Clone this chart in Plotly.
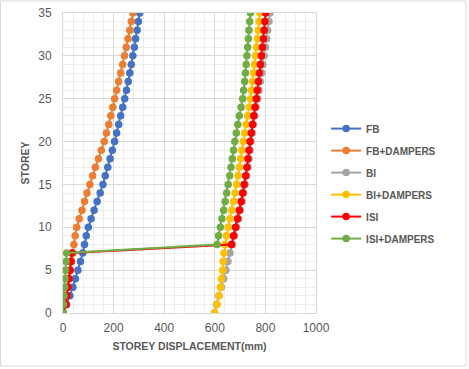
import plotly.graph_objects as go

storeys = list(range(0, 36))

fb = [0, 14, 27, 39, 49, 59, 69, 78, 85, 92, 100, 111, 123, 135, 147, 158, 167, 177, 186, 195,
      204, 212, 220, 228, 236, 244, 251, 258, 264, 270, 276, 282, 287, 293, 298, 303]
fb_dampers = [0, 6, 11, 17, 22, 28, 34, 39, 43, 48, 54, 64, 75, 85, 95, 106, 117, 128, 140, 151,
              163, 172, 181, 189, 197, 204, 212, 220, 228, 236, 243, 250, 257, 264, 270, 276]
bi = [598, 607, 616, 626, 635, 644, 652, 660, 670, 678, 686, 694, 701, 708, 714, 720, 726, 731, 735, 739,
      743, 748, 753, 758, 763, 770, 775, 780, 785, 790, 795, 800, 805, 809, 814, 818]
bi_dampers = [600, 609, 617, 622, 626, 631, 633, 636, 640, 646, 653, 660, 667, 674, 680, 686, 692, 697, 702, 706,
              712, 718, 724, 730, 736, 741, 745, 749, 753, 757, 761, 765, 769, 772, 775, 778]
isi = [0, 12, 16, 20, 24, 28, 31, 35, 666, 674, 682, 690, 697, 704, 710, 716, 722, 727, 731, 735,
       739, 744, 749, 754, 759, 764, 768, 772, 776, 780, 784, 788, 792, 795, 798, 801]
isi_dampers = [0, 2, 4, 6, 8, 10, 12, 14, 609, 615, 622, 628, 635, 641, 647, 653, 659, 664, 669, 674,
               679, 685, 691, 697, 704, 710, 714, 718, 721, 724, 727, 730, 733, 735, 738, 741]

series = [
    ("FB", fb, "#4472C4"),
    ("FB+DAMPERS", fb_dampers, "#ED7D31"),
    ("BI", bi, "#A5A5A5"),
    ("BI+DAMPERS", bi_dampers, "#FFC000"),
    ("ISI", isi, "#FF0000"),
    ("ISI+DAMPERS", isi_dampers, "#70AD47"),
]

x_ticks = [0, 200, 400, 600, 800, 1000]
y_ticks = [0, 5, 10, 15, 20, 25, 30, 35]

fig = go.Figure()
for name, vals, col in series:
    fig.add_trace(go.Scatter(
        x=vals, y=storeys, name="<b>" + name + "</b>", mode="lines+markers",
        line=dict(color=col, width=2),
        marker=dict(color=col, size=7.5, symbol="circle"),
        legendgroup=name,
    ))

txt = "#595959"
fig.update_layout(
    width=469, height=369,
    margin=dict(l=63, r=153, t=13, b=56, autoexpand=False),
    paper_bgcolor="white", plot_bgcolor="white",
    font=dict(family="Liberation Sans, Arial, sans-serif", color=txt, size=12),
    showlegend=True,
    legend=dict(x=1.04, y=0.663, xanchor="left", yanchor="top",
                font=dict(size=10, color=txt, family="Liberation Sans, Arial, sans-serif"),
                tracegroupgap=3, bgcolor="rgba(0,0,0,0)"),
    xaxis=dict(range=[0, 1000], tickvals=x_ticks, showgrid=True, gridcolor="#D9D9D9", gridwidth=1,
               minor=dict(dtick=40, showgrid=True, gridcolor="#EDEDED"),
               zeroline=False, showline=True, linecolor="#D9D9D9", mirror=True,
               ticks="outside", ticklen=4, tickcolor="rgba(0,0,0,0)", automargin=False,
               tickfont=dict(size=12, color=txt),
               title=dict(text="<b>STOREY DISPLACEMENT(mm)</b>", font=dict(size=10.5, color=txt), standoff=8)),
    yaxis=dict(range=[0, 35], tickvals=y_ticks, showgrid=True, gridcolor="#D9D9D9", gridwidth=1,
               minor=dict(dtick=1, showgrid=True, gridcolor="#EDEDED"),
               zeroline=False, showline=True, linecolor="#D9D9D9", mirror=True,
               ticks="outside", ticklen=8, tickcolor="rgba(0,0,0,0)", automargin=False,
               tickfont=dict(size=12, color=txt),
               title=dict(text="<b>STOREY</b>", font=dict(size=10.5, color=txt), standoff=6)),
)

fig.add_shape(type="rect", xref="paper", yref="paper",
              x0=-62.5 / 253, x1=(466 - 63) / 253, y0=-(366 - 313) / 300, y1=(313 - 1) / 300,
              line=dict(color="#D9D9D9", width=1), fillcolor="rgba(0,0,0,0)", layer="below")

fig.write_html("out.html", config={"displayModeBar": False},
               post_script="document.body.style.margin='0';")
